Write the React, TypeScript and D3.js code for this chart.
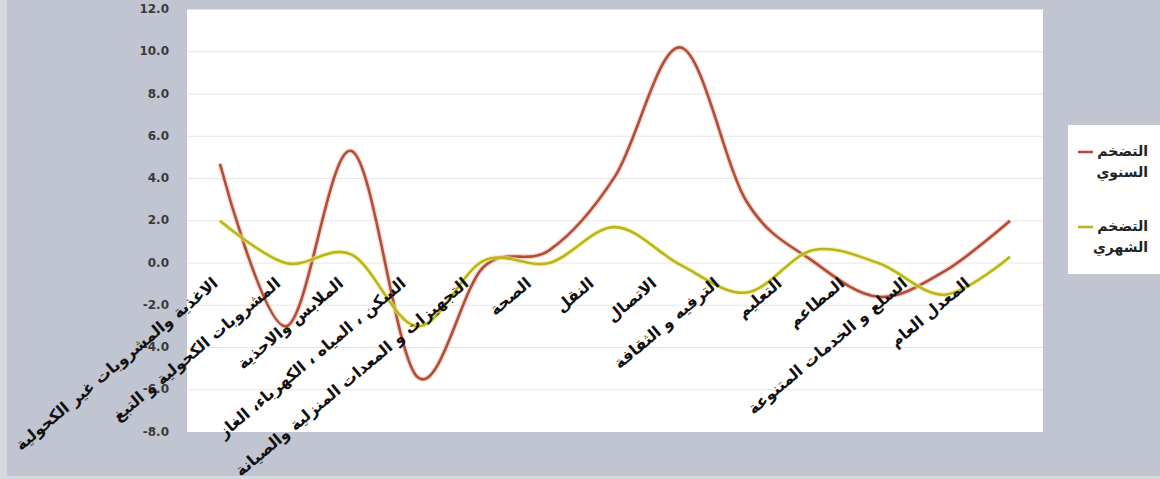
import React from "react";
import * as d3 from "d3";

const categories: string[] = [
  "الاغذية والمشروبات غير الكحولية",
  "المشروبات الكحولية و التبغ",
  "الملابس والاحذية",
  "السكن ، المياه ، الكهرباء، الغاز",
  "التجهيزات و المعدات المنزلية والصيانة",
  "الصحة",
  "النقل",
  "الاتصال",
  "الترفيه و الثقافة",
  "التعليم",
  "المطاعم",
  "السلع و الخدمات المتنوعة",
  "المعدل العام",
];

const annualInflation: number[] = [4.7, -3.0, 5.3, -5.4, -0.2, 0.6, 4.1, 10.2, 2.9, 0.1, -1.6, -0.4, 2.0];
const monthlyInflation: number[] = [2.0, 0.0, 0.4, -3.0, 0.1, 0.0, 1.7, -0.1, -1.4, 0.6, 0.0, -1.5, 0.3];

const yTicks: number[] = [12, 10, 8, 6, 4, 2, 0, -2, -4, -6, -8];

const seriesNames: string[][] = [
  ["التضخم", "السنوي"],
  ["التضخم", "الشهري"],
];

const W = 1160;
const H = 479;
const plot = { left: 187, right: 1043, top: 9.5, bottom: 432 };
const RED = "#b04e3a";
const YELLOW = "#b9b51f";
const FONT = "'DejaVu Sans', 'Noto Sans', sans-serif";

export default function App() {
  const x = d3
    .scaleBand<string>()
    .domain(categories)
    .range([plot.left, plot.right]);
  const cx = (c: string) => (x(c) as number) + x.bandwidth() / 2;
  const y = d3.scaleLinear().domain([-8, 12]).range([plot.bottom, plot.top]);
  // category label anchors (Excel lays the rotated labels out slightly tighter)
  const xl = d3.scalePoint<string>().domain(categories).range([219, 971]);

  const line = d3
    .line<number>()
    .x((_, i) => cx(categories[i]))
    .y((d) => y(d))
    .curve(d3.curveCardinal.tension(0));

  const series = [
    { values: annualInflation, color: RED, halo: "#f3b7a8" },
    { values: monthlyInflation, color: YELLOW, halo: "#f2ee8a" },
  ];

  return (
    <div style={{ position: "fixed", left: 0, top: 0, width: W, height: H }}>
      <svg width={W} height={H} style={{ display: "block" }}>
        <rect x={0} y={0} width={W} height={H} fill="#d6d8df" />
        <rect x={7} y={0} width={W - 7} height={476} fill="#c1c5d1" />
        <rect
          x={plot.left}
          y={plot.top}
          width={plot.right - plot.left}
          height={plot.bottom - plot.top}
          fill="#ffffff"
        />
        {yTicks.map((t) => (
          <g key={t}>
            {t !== -8 && t !== 12 && (
              <line
                x1={plot.left}
                x2={plot.right}
                y1={y(t)}
                y2={y(t)}
                stroke="#e6e6e6"
                strokeWidth={1}
              />
            )}
            <text
              x={169}
              y={y(t)}
              textAnchor="end"
              dominantBaseline="middle"
              fontFamily={FONT}
              fontWeight="bold"
              fontSize={12}
              fill="#3a3a3a"
            >
              {t.toFixed(1)}
            </text>
          </g>
        ))}
        {series.map((s, k) => (
          <g key={k}>
            <path d={line(s.values) || ""} fill="none" stroke={s.halo} strokeWidth={5} opacity={0.6} />
            <path d={line(s.values) || ""} fill="none" stroke={s.color} strokeWidth={2.6} />
          </g>
        ))}
        {categories.map((c) => (
          <text
            key={c}
            transform={`translate(${xl(c)},${285}) rotate(-40)`}
            textAnchor="end"
            fontFamily={FONT}
            fontWeight="bold"
            fontSize={16}
            fill="#111"
          >
            {c}
          </text>
        ))}
        <rect x={1068} y={125} width={100} height={149} fill="#ffffff" />
        {series.map((s, k) => {
          const ly = 152 + k * 75;
          return (
            <g key={k}>
              <line x1={1078} x2={1093} y1={ly} y2={ly} stroke={s.color} strokeWidth={2.6} />
              <text
                x={1148}
                y={ly}
                textAnchor="end"
                dominantBaseline="middle"
                fontFamily={FONT}
                fontWeight="bold"
                fontSize={14}
                fill="#222"
              >
                {seriesNames[k][0]}
              </text>
              <text
                x={1148}
                y={ly + 21}
                textAnchor="end"
                dominantBaseline="middle"
                fontFamily={FONT}
                fontWeight="bold"
                fontSize={14}
                fill="#222"
              >
                {seriesNames[k][1]}
              </text>
            </g>
          );
        })}
      </svg>
    </div>
  );
}
